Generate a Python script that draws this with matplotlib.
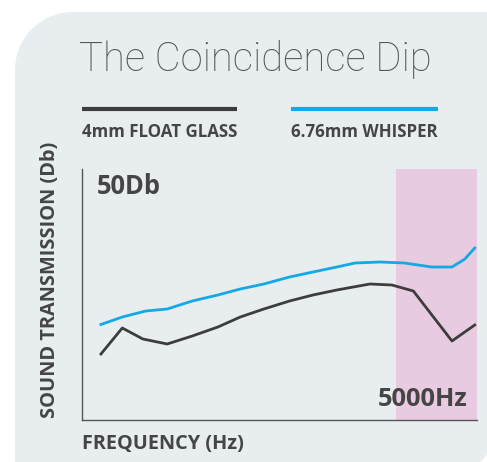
import numpy as np
import matplotlib
matplotlib.use("Agg")
from matplotlib import pyplot as plt
from matplotlib.path import Path
from matplotlib.patches import PathPatch

# series (frequency in Hz, transmission loss in dB)
blue_freq = [100, 125, 160, 200, 260, 340, 430, 550, 720, 920, 1180, 1430, 1860, 2400, 3180, 3940, 4510, 5000]
blue_db = [19.1, 20.6, 21.8, 22.2, 23.8, 25.0, 26.2, 27.2, 28.6, 29.6, 30.6, 31.4, 31.6, 31.4, 30.6, 30.6, 32.2, 34.4]
black_freq = [100, 125, 155, 200, 260, 340, 430, 550, 720, 920, 1180, 1670, 2100, 2630, 3940, 5000]
black_db = [13.2, 18.4, 16.2, 15.2, 16.8, 18.6, 20.6, 22.2, 23.8, 25.0, 26.0, 27.2, 27.0, 25.8, 15.8, 19.0]
dip_start, dip_end = 2200, 5120
series_names = ["4mm FLOAT GLASS", "6.76mm WHISPER"]

BG = "#e8edf0"
DARK = "#3d3d3d"
BLUE = "#12a9e4"
PINK = "#e9cbe1"
TEXT = "#454545"
SANS = ["Open Sans", "DejaVu Sans"]

W, H = 487, 462
fig = plt.figure(figsize=(W / 100, H / 100), dpi=100)
fig.patch.set_facecolor("white")

# background layer in pixel coordinates
bg = fig.add_axes([0, 0, 1, 1], zorder=0)
bg.set_xlim(0, W)
bg.set_ylim(H, 0)
bg.axis("off")


def arc(cx, cy, r, a0, a1, n=30):
    t = np.linspace(np.radians(a0), np.radians(a1), n)
    return list(zip(cx + r * np.cos(t), cy + r * np.sin(t)))


left, top, right, bottom = 15, 12, 492, 468
r1, r2 = 58, 30
verts = arc(left + r1, top + r1, r1, 180, 270)
verts += [(right, top)]
verts += arc(right - r2, bottom - r2, r2, 0, 90)
verts += [(left, bottom), (left, top + r1)]
codes = [Path.MOVETO] + [Path.LINETO] * (len(verts) - 2) + [Path.CLOSEPOLY]
bg.add_patch(PathPatch(Path(verts, codes), facecolor=BG, edgecolor="none"))

bg.text(79, 71, "The Coincidence Dip", fontsize=28.8, family=["Roboto", "DejaVu Sans"],
        fontweight="light", color="#555555", va="baseline", ha="left")

bg.plot([82, 237], [109, 109], color=DARK, lw=3, solid_capstyle="butt")
bg.plot([291, 438], [109, 109], color=BLUE, lw=3, solid_capstyle="butt")
bg.text(82, 137, series_names[0], fontsize=12.2, fontweight="bold", family=SANS,
        color=TEXT, va="baseline")
bg.text(291, 137, series_names[1], fontsize=12.2, fontweight="bold", family=SANS,
        color=TEXT, va="baseline")
bg.text(50, 280, "SOUND TRANSMISSION (Db)", rotation=90, fontsize=14.4, fontweight="bold",
        family=SANS, color=TEXT, ha="center", va="center")
bg.text(82, 449, "FREQUENCY (Hz)", fontsize=14.3, fontweight="bold", family=SANS,
        color=TEXT, va="baseline")

# chart
ax = fig.add_axes([82 / W, 1 - 420 / H, (477 - 82) / W, (420 - 169) / H], zorder=1)
ax.patch.set_alpha(0)
ax.set_xscale("log")
ax.set_xlim(82, 5120)
ax.set_ylim(0, 50.2)
ax.axvspan(dip_start, dip_end, color=PINK, lw=0, zorder=0)
ax.plot(black_freq, black_db, color=DARK, lw=2, zorder=2)
ax.plot(blue_freq, blue_db, color=BLUE, lw=2, zorder=3)

for side in ["top", "right"]:
    ax.spines[side].set_visible(False)
for side in ["left", "bottom"]:
    ax.spines[side].set_color("#555555")
    ax.spines[side].set_linewidth(1)
ax.set_xticks([])
ax.set_yticks([])
ax.minorticks_off()

ax.text(0.038, 0.985, "50Db", transform=ax.transAxes, fontsize=18.4, fontweight="bold",
        family=SANS, color=TEXT, va="top", ha="left")
ax.text(0.975, 0.055, "5000Hz", transform=ax.transAxes, fontsize=18.3, fontweight="bold",
        family=SANS, color=TEXT, va="baseline", ha="right")

fig.savefig("out.png", dpi=100)
